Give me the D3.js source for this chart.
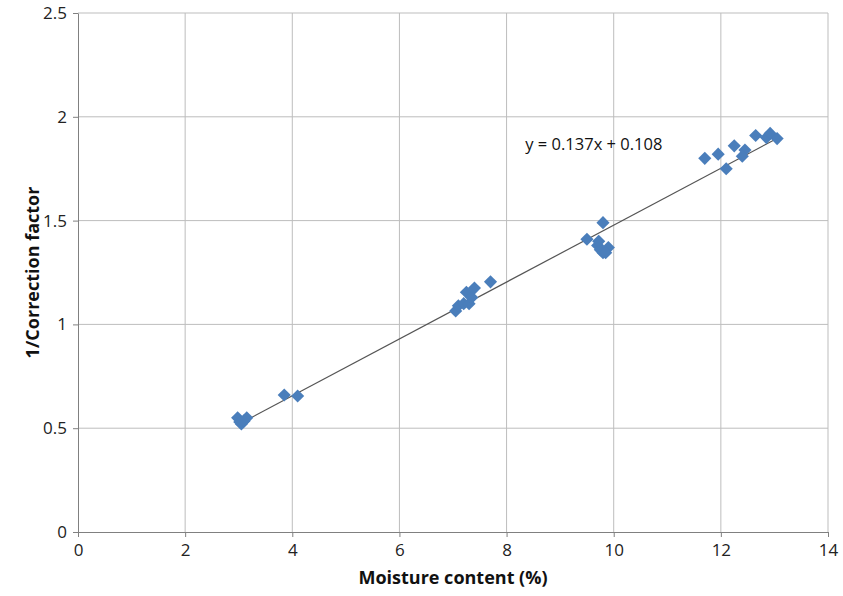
<!DOCTYPE html>
<html>
<head>
<meta charset="utf-8">
<script src="https://cdn.jsdelivr.net/npm/d3@7"></script>
<style>
	body { margin: 0; background: #fff; }
	svg text { font-family: "Open Sans", sans-serif; }
</style>
</head>
<body>
<script>
// moisture content (%) and 1/correction factor
var moisture = [2.98, 3.05, 3.1, 3.15, 3.02,
	3.85, 4.1,
	7.05, 7.1, 7.2, 7.25, 7.3, 7.35, 7.4, 7.7,
	9.5, 9.8, 9.7, 9.75, 9.8, 9.9, 9.85, 9.72,
	11.7, 11.95, 12.1, 12.25, 12.45, 12.4, 12.65, 12.85, 12.92, 13.05];
var factor = [0.55, 0.52, 0.535, 0.55, 0.53,
	0.66, 0.655,
	1.065, 1.09, 1.1, 1.155, 1.1, 1.13, 1.175, 1.205,
	1.41, 1.49, 1.38, 1.36, 1.345, 1.37, 1.345, 1.4,
	1.80, 1.82, 1.75, 1.86, 1.84, 1.81, 1.91, 1.90, 1.92, 1.895];
var xTicks = [0, 2, 4, 6, 8, 10, 12, 14];
var yTicks = [0, 0.5, 1, 1.5, 2, 2.5];
var slope = 0.137, intercept = 0.108;
var fitRange = [3, 13.1];

var svg = d3.select("body").append("svg")
	.attr("width", 843)
	.attr("height", 596);

var margin = {top: 13, right: 15, bottom: 64, left: 78},
	width = +svg.attr("width") - margin.left - margin.right,
	height = +svg.attr("height") - margin.top - margin.bottom,
	g = svg.append("g").attr("transform", "translate(" + margin.left + "," + margin.top + ")");

var x = d3.scaleLinear().domain([0, 14]).range([0, width]);
var y = d3.scaleLinear().domain([0, 2.5]).range([height, 0]);

// grid
g.append("g").selectAll("line").data(xTicks.slice(1)).enter().append("line")
	.attr("x1", function(d){return x(d);}).attr("x2", function(d){return x(d);})
	.attr("y1", 0).attr("y2", height)
	.attr("stroke", "#bdbdbd");
g.append("g").selectAll("line").data(yTicks.slice(1)).enter().append("line")
	.attr("y1", function(d){return y(d);}).attr("y2", function(d){return y(d);})
	.attr("x1", 0).attr("x2", width)
	.attr("stroke", "#bdbdbd");

// axes
var xAxis = g.append("g")
	.attr("transform", "translate(0," + height + ")")
	.call(d3.axisBottom(x).tickValues(xTicks).tickSize(5).tickSizeOuter(0).tickPadding(7));
var yAxis = g.append("g")
	.call(d3.axisLeft(y).tickValues(yTicks).tickSize(5).tickSizeOuter(0).tickPadding(6)
		.tickFormat(function(d){return d;}));
[xAxis, yAxis].forEach(function(a){
	a.select(".domain").attr("stroke", "#808080");
	a.selectAll(".tick line").attr("stroke", "#808080");
	a.selectAll("text").attr("fill", "#222").attr("font-size", 17)
		.style("font-family", "'Open Sans', sans-serif");
});

// trend line
g.append("line")
	.attr("x1", x(fitRange[0])).attr("y1", y(slope * fitRange[0] + intercept))
	.attr("x2", x(fitRange[1])).attr("y2", y(slope * fitRange[1] + intercept))
	.attr("stroke", "#555").attr("stroke-width", 1.2);

// points
var diamond = d3.symbol().type(d3.symbolDiamond2).size(110);
g.append("g").selectAll("path").data(moisture).enter().append("path")
	.attr("d", diamond)
	.attr("transform", function(d, i){return "translate(" + x(d) + "," + y(factor[i]) + ")";})
	.attr("fill", "#4a7ebb");

// equation
g.append("text")
	.attr("x", x(8.35)).attr("y", y(1.84))
	.attr("font-size", 16.5).attr("fill", "#111")
	.text("y = 0.137x + 0.108");

// axis titles
svg.append("text")
	.attr("x", margin.left + width / 2).attr("y", 584)
	.attr("text-anchor", "middle")
	.attr("font-size", 18).attr("font-weight", "bold").attr("fill", "#111")
	.text("Moisture content (%)");
svg.append("text")
	.attr("transform", "translate(39," + (margin.top + y(1.25)) + ") rotate(-90)")
	.attr("text-anchor", "middle")
	.attr("font-size", 18).attr("font-weight", "bold").attr("fill", "#111")
	.text("1/Correction factor");
</script>
</body>
</html>
